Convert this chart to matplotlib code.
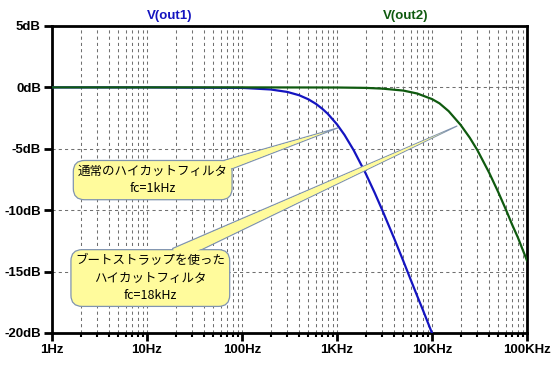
import matplotlib
matplotlib.use("Agg")
import matplotlib.pyplot as plt
from matplotlib.ticker import LogLocator, FixedLocator, NullFormatter

# 周波数 [Hz] と ゲイン [dB]
freq_out1 = [1, 10, 100, 200, 300, 400, 500, 600, 700, 800, 1000, 1200, 1500,
             2000, 2500, 3000, 4000, 5000, 6000, 7000, 8000, 10000]
gain_out1 = [0.0, 0.0, -0.04, -0.17, -0.37, -0.64, -0.97, -1.34, -1.74, -2.15,
             -3.01, -3.87, -5.12, -6.99, -8.60, -10.0, -12.3, -14.15, -15.7,
             -17.0, -18.1, -20.0]

freq_out2 = [1, 100, 1000, 2000, 3000, 5000, 7000, 10000, 12000, 15000, 20000,
             25000, 30000, 40000, 50000, 60000, 70000, 80000, 100000]
gain_out2 = [0.0, 0.0, -0.01, -0.04, -0.1, -0.26, -0.5, -0.95, -1.3, -1.94,
             -3.05, -4.1, -5.1, -6.95, -8.55, -9.95, -11.2, -12.2, -14.1]

y_ticks = [5, 0, -5, -10, -15, -20]
y_labels = ["5dB", "0dB", "-5dB", "-10dB", "-15dB", "-20dB"]
x_ticks = [1, 10, 100, 1000, 10000, 100000]
x_labels = ["1Hz", "10Hz", "100Hz", "1KHz", "10KHz", "100KHz"]

note1 = "通常のハイカットフィルタ\nfc=1kHz"
note2 = "ブートストラップを使った\nハイカットフィルタ\nfc=18kHz"

blue = "#1414c0"
green = "#0f5a0f"
note_fc = "#fffb9c"
note_ec = "#8094b0"

fig = plt.figure(figsize=(5.59, 3.66), dpi=100)
ax = fig.add_axes([0.093, 0.0902, 0.8497, 0.8388])

ax.set_xscale("log")
ax.set_xlim(1, 100000)
ax.set_ylim(-20, 5)

# グリッド（破線）
ax.xaxis.set_major_locator(FixedLocator(x_ticks))
ax.xaxis.set_minor_locator(LogLocator(base=10, subs=range(2, 10), numticks=20))
ax.xaxis.set_minor_formatter(NullFormatter())
ax.set_xticklabels(x_labels)
ax.set_yticks(y_ticks)
ax.set_yticklabels(y_labels)
ax.grid(True, which="both", axis="x", color="#707070", linestyle=(0, (3, 3)), linewidth=0.75)
ax.grid(True, which="major", axis="y", color="#707070", linestyle=(0, (3, 3)), linewidth=0.75)
ax.set_axisbelow(True)

for s in ax.spines.values():
    s.set_linewidth(2)
ax.tick_params(axis="both", which="major", direction="out", length=6, width=2, pad=2)
ax.tick_params(axis="x", which="minor", direction="out", length=3, width=1.5)
ax.tick_params(axis="y", which="minor", left=False)
for lab in ax.get_xticklabels() + ax.get_yticklabels():
    lab.set_fontfamily("Liberation Sans")
    lab.set_fontweight("bold")
    lab.set_fontsize(9.5)

# 曲線
ax.plot(freq_out1, gain_out1, color=blue, linewidth=1.6, zorder=3, clip_on=True)
ax.plot(freq_out2, gain_out2, color=green, linewidth=1.6, zorder=3.1, clip_on=True)

fig.text(0.304, 0.955, "V(out1)", color=blue, fontsize=9.5, fontweight="bold",
         family="Liberation Sans", ha="center", va="center")
fig.text(0.725, 0.955, "V(out2)", color=green, fontsize=9.5, fontweight="bold",
         family="Liberation Sans", ha="center", va="center")


def callout(text, box_xy, tail_xy, tip_xy, tail_w):
    # 吹き出しの三角部分（縁あり）
    wedge = dict(arrowstyle="wedge,tail_width=%.2f,shrink_factor=0.5" % tail_w,
                 fc=note_fc, ec=note_ec, lw=0.9, patchA=None, shrinkA=0, shrinkB=0)
    ax.annotate("", xy=tip_xy, xycoords="data", xytext=tail_xy,
                textcoords="axes fraction", arrowprops=wedge, zorder=5,
                fontsize=9)
    # 箱
    ax.text(box_xy[0], box_xy[1], text, transform=ax.transAxes, ha="center",
            va="center", fontsize=9, family="Noto Sans CJK JP", linespacing=1.45,
            color="none", zorder=6,
            bbox=dict(boxstyle="round,pad=0.35,rounding_size=0.9", fc=note_fc,
                      ec=note_ec, lw=0.9))
    # 三角部分の付け根を箱と一体化
    wedge2 = dict(arrowstyle="wedge,tail_width=%.2f,shrink_factor=0.5" % (tail_w * 0.85),
                  fc=note_fc, ec="none", patchA=None, shrinkA=0, shrinkB=8)
    ax.annotate("", xy=tip_xy, xycoords="data", xytext=tail_xy,
                textcoords="axes fraction", arrowprops=wedge2, zorder=7,
                fontsize=9)
    ax.text(box_xy[0], box_xy[1], text, transform=ax.transAxes, ha="center",
            va="center", fontsize=9, family="Noto Sans CJK JP", linespacing=1.45,
            color="black", zorder=8)


callout(note1, (0.212, 0.498), (0.355, 0.54), (1020, -3.3), 0.9)
callout(note2, (0.207, 0.179), (0.26, 0.255), (18300, -3.15), 1.1)

fig.savefig("out.png", dpi=100)
